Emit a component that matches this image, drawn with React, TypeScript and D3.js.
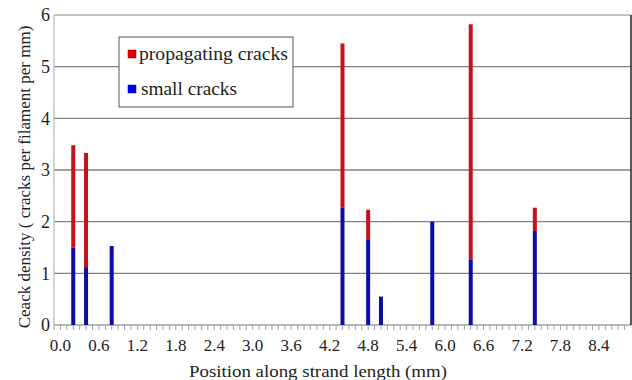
import React from "react";
import * as d3 from "d3";

// Crack positions along the strand (mm) and densities (cracks per filament per mm)
const positions = [0.2, 0.4, 0.8, 4.4, 4.8, 5.0, 5.8, 6.4, 7.4];
const smallCracks = [1.5, 1.12, 1.53, 2.27, 1.66, 0.55, 2.0, 1.26, 1.82];
const propagatingCracks = [1.98, 2.21, 0, 3.18, 0.57, 0, 0, 4.56, 0.45];
const yTicks = [0, 1, 2, 3, 4, 5, 6];
const xLabelTicks = [0.0, 0.6, 1.2, 1.8, 2.4, 3.0, 3.6, 4.2, 4.8, 5.4, 6.0, 6.6, 7.2, 7.8, 8.4];
const seriesNames = ["propagating cracks", "small cracks"];

const W = 632;
const H = 380;
const M = { left: 54, right: 631, top: 15, bottom: 325 };
const FONT = "Liberation Serif";
const RED = "#c8101a";
const BLUE = "#0c0ca8";

export default function App() {
  const x = d3.scaleLinear().domain([-0.1, 8.9]).range([M.left, M.right]);
  const y = d3.scaleLinear().domain([0, 6]).range([M.bottom, M.top]);
  const minorTicks = d3.range(0, 90).map((i) => -0.1 + i * 0.1);
  const barW = 4;
  const txt = { fontFamily: FONT };

  return (
    <svg
      width={W}
      height={H}
      style={{ position: "absolute", left: 0, top: 0, background: "#fff" }}
    >
      {/* horizontal grid */}
      {yTicks.map((t) => (
        <line
          key={"g" + t}
          x1={M.left}
          x2={M.right}
          y1={y(t)}
          y2={y(t)}
          stroke={t === 6 ? "#b0b0b0" : t === 0 ? "#a0a0a0" : "#808080"}
          strokeWidth={1.4}
        />
      ))}
      {/* left axis line */}
      <line x1={M.left} x2={M.left} y1={M.top} y2={M.bottom} stroke="#b8b8b8" strokeWidth={1.2} />
      {/* right border */}
      <line x1={M.right} x2={M.right} y1={M.top} y2={M.bottom} stroke="#202020" strokeWidth={1.5} />

      {/* x minor ticks */}
      {minorTicks.map((t, i) => (
        <line
          key={"t" + i}
          x1={x(t)}
          x2={x(t)}
          y1={M.bottom}
          y2={M.bottom + 5}
          stroke="#a0a0a0"
          strokeWidth={1}
        />
      ))}

      {/* y tick labels */}
      {yTicks.map((t) => (
        <text
          key={"yl" + t}
          x={50}
          y={y(t)}
          dy="0.35em"
          textAnchor="end"
          fontSize={18}
          fill="#222"
          style={txt}
        >
          {t}
        </text>
      ))}

      {/* x tick labels */}
      {xLabelTicks.map((t) => (
        <text key={"xl" + t} x={x(t)} y={351} textAnchor="middle" fontSize={17} fill="#222" style={txt}>
          {t.toFixed(1)}
        </text>
      ))}

      {/* stacked bars */}
      {positions.map((p, i) => {
        const s = smallCracks[i];
        const pr = propagatingCracks[i];
        return (
          <g key={"b" + i}>
            {pr > 0 && (
              <rect
                x={x(p) - barW / 2}
                y={y(s + pr)}
                width={barW}
                height={y(s) - y(s + pr)}
                fill={RED}
              />
            )}
            <rect x={x(p) - barW / 2} y={y(s)} width={barW} height={y(0) - y(s)} fill={BLUE} />
          </g>
        );
      })}

      {/* legend */}
      <rect x={119} y={37} width={174} height={70} fill="#fff" stroke="#555" strokeWidth={1} />
      <rect x={128} y={50} width={8} height={8} fill="#e00000" stroke="#900" strokeWidth={0.5} />
      <text
        x={139}
        y={60}
        fontSize={19}
        fill="#222"
        style={txt}
        textLength={149}
        lengthAdjust="spacingAndGlyphs"
      >
        {seriesNames[0]}
      </text>
      <rect x={128} y={85} width={8} height={8} fill="#0000f0" stroke="#009" strokeWidth={0.5} />
      <text
        x={141}
        y={95}
        fontSize={19}
        fill="#222"
        style={txt}
        textLength={96}
        lengthAdjust="spacingAndGlyphs"
      >
        {seriesNames[1]}
      </text>

      {/* axis titles */}
      <text
        x={189}
        y={377}
        fontSize={17.5}
        fill="#222"
        style={txt}
        textLength={258}
        lengthAdjust="spacingAndGlyphs"
      >
        Position along strand length (mm)
      </text>
      <text
        transform={`translate(24,177) rotate(-90)`}
        textAnchor="middle"
        dy="0.35em"
        fontSize={17}
        fill="#222"
        style={txt}
      >
        Ceack density ( cracks per filament per mm)
      </text>
    </svg>
  );
}
